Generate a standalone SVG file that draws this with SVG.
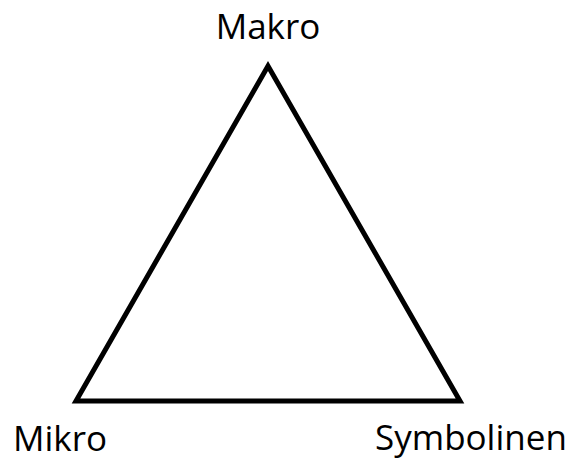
<svg xmlns="http://www.w3.org/2000/svg" width="578" height="461" viewBox="0 0 578 461">
<style>
.lbl{font-family:"Open Sans","Noto Sans",sans-serif;font-size:35px;fill:#000}
.edge{fill:none;stroke:#000;stroke-width:5;stroke-linejoin:miter}
</style>
<rect width="578" height="461" fill="#fff"/>
<g id="connectors">
<polygon class="edge" points="268,66 76,401 460,401"/>
</g>
<g id="makro"><text class="lbl" x="268" y="39" text-anchor="middle">Makro</text></g>
<g id="mikro"><text class="lbl" x="13" y="451">Mikro</text></g>
<g id="symbolinen"><text class="lbl" x="375" y="450">Symbolinen</text></g>
</svg>
